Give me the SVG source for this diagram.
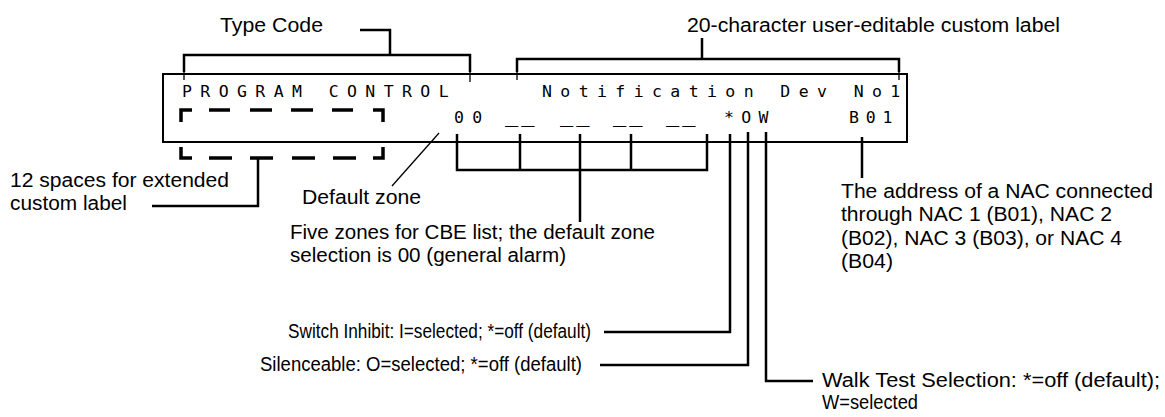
<svg xmlns="http://www.w3.org/2000/svg" width="1165" height="417" viewBox="0 0 1165 417">
  <style>
    .lbl { font-family: "Liberation Sans", Arial, sans-serif; font-size: 20px; fill: #000; }
    .sm { font-size: 19.5px; }
    .lcd { font-family: "DejaVu Sans Mono", "Liberation Mono", monospace; font-size: 16.5px; fill: #000; letter-spacing: 8.4px; }
    .ln { fill: none; stroke: #000; stroke-width: 2.5; }
    .thin { fill: none; stroke: #000; stroke-width: 1.3; }
    .box { fill: #fff; stroke: #000; stroke-width: 2; }
    .dash { fill: none; stroke: #000; stroke-width: 3.5; }
  </style>

  <g id="lcd-display">
    <rect class="box" x="163" y="74" width="744" height="68"/>
    <text class="lcd" x="182" y="97">PROGRAM CONTROL</text>
    <text class="lcd" x="542" y="97">Notification Dev No1</text>
    <text class="lcd" x="454" y="123">00</text>
    <text class="lcd" x="505" y="122" style="font-size:22px;letter-spacing:3px">__</text>
    <text class="lcd" x="560" y="122" style="font-size:22px;letter-spacing:3px">__</text>
    <text class="lcd" x="613" y="122" style="font-size:22px;letter-spacing:3px">__</text>
    <text class="lcd" x="666" y="122" style="font-size:22px;letter-spacing:3px">__</text>
    <text class="lcd" x="724" y="123" style="letter-spacing:7.3px">*OW</text>
    <text class="lcd" x="849" y="123" style="letter-spacing:6.8px">B01</text>
    <g id="ext-label-top">
      <path class="dash" d="M181,122 V110 H192 M209,110 H230 M250,110 H272 M291,110 H313 M332,110 H353 M373,110 H383 V122"/>
    </g>
  </g>

  <g id="ext-label-bottom">
    <path class="dash" d="M181,147 V158 H192 M209,158 H232 M250,158 H273 M292,158 H315 M333,158 H356 M373,158 H383 V147"/>
  </g>

  <g id="label-type-code"><text class="lbl" x="220" y="32" textLength="103" lengthAdjust="spacingAndGlyphs">Type Code</text></g>
  <g id="label-custom"><text class="lbl" x="687" y="32" textLength="373" lengthAdjust="spacingAndGlyphs">20-character user-editable custom label</text></g>
  <g id="label-extended">
    <text class="lbl" x="10" y="187" textLength="219" lengthAdjust="spacingAndGlyphs">12 spaces for extended</text>
    <text class="lbl" x="10" y="210" textLength="117" lengthAdjust="spacingAndGlyphs">custom label</text>
  </g>
  <g id="label-default-zone"><text class="lbl" x="302" y="204" textLength="119" lengthAdjust="spacingAndGlyphs">Default zone</text></g>
  <g id="label-cbe">
    <text class="lbl" x="290" y="239" textLength="365" lengthAdjust="spacingAndGlyphs">Five zones for CBE list; the default zone</text>
    <text class="lbl" x="290" y="262" textLength="276" lengthAdjust="spacingAndGlyphs">selection is 00 (general alarm)</text>
  </g>
  <g id="label-address">
    <text class="lbl" x="841" y="198" textLength="312" lengthAdjust="spacingAndGlyphs">The address of a NAC connected</text>
    <text class="lbl" x="841" y="221" textLength="271" lengthAdjust="spacingAndGlyphs">through NAC 1 (B01), NAC 2</text>
    <text class="lbl" x="841" y="245" textLength="281" lengthAdjust="spacingAndGlyphs">(B02), NAC 3 (B03), or NAC 4</text>
    <text class="lbl" x="841" y="268" textLength="52" lengthAdjust="spacingAndGlyphs">(B04)</text>
  </g>
  <g id="label-switch"><text class="lbl sm" x="288" y="338" textLength="303" lengthAdjust="spacingAndGlyphs">Switch Inhibit: I=selected; *=off (default)</text></g>
  <g id="label-silence"><text class="lbl sm" x="260" y="371" textLength="322" lengthAdjust="spacingAndGlyphs">Silenceable: O=selected; *=off (default)</text></g>
  <g id="label-walk">
    <text class="lbl" x="822" y="387" textLength="338" lengthAdjust="spacingAndGlyphs">Walk Test Selection: *=off (default);</text>
    <text class="lbl sm" x="822" y="409" textLength="96" lengthAdjust="spacingAndGlyphs">W=selected</text>
  </g>

  <g id="connectors">
    <path class="ln" d="M360,30 H390 V55"/>
    <path class="ln" d="M184,72 V55 H470 V72"/>
    <path class="thin" d="M184,72 V80 M470,72 V82"/>
    <path class="ln" d="M702,38 V59"/>
    <path class="ln" d="M517,72 V59 H899 V72"/>
    <path class="thin" d="M517,72 V80 M899,72 V80"/>
    <path class="ln" d="M258,158 V206 H152"/>
    <path class="thin" d="M392,186 L439,133"/>
    <path class="ln" d="M457,134 V170 H707 V134 M520,134 V170 M580,134 V222 M631,134 V170"/>
    <path class="ln" d="M730,134 V332 H604"/>
    <path class="ln" d="M748,132 V365 H600"/>
    <path class="ln" d="M766,132 V381 H813"/>
    <path class="ln" d="M862,137 V178"/>
  </g>
</svg>
